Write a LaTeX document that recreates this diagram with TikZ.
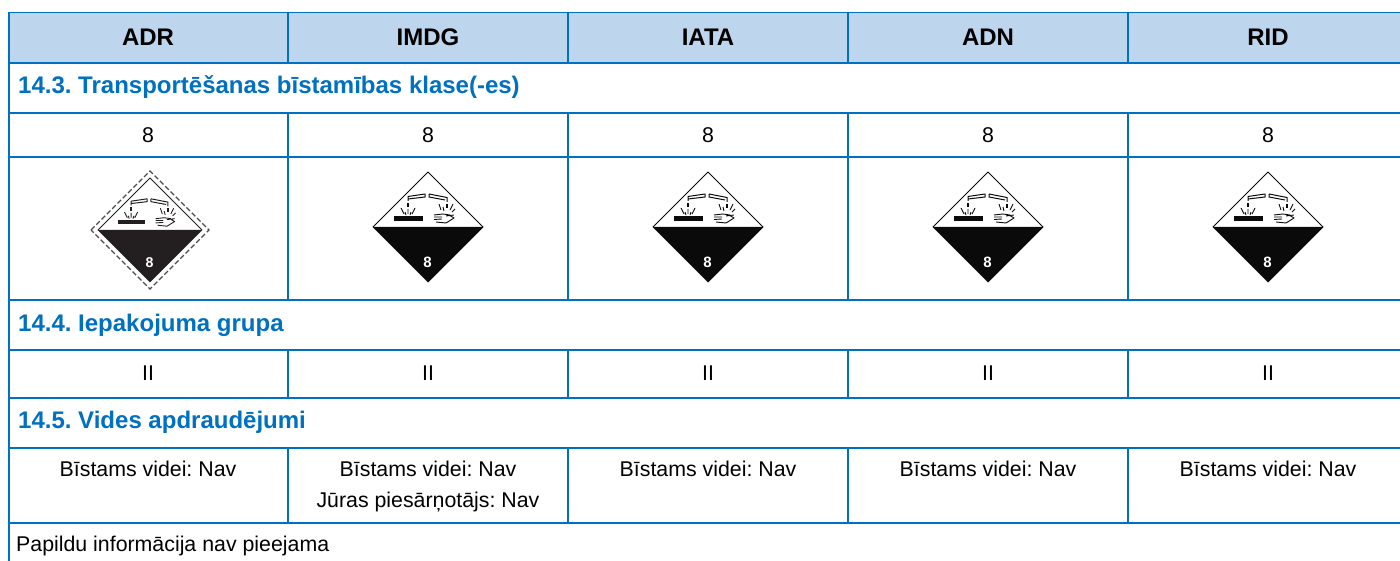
\documentclass[tikz,border=0pt]{standalone}
\usepackage{fontspec}
\setmainfont{Liberation Sans}
\frenchspacing
\definecolor{rulecol}{HTML}{0070C0}
\definecolor{headfill}{HTML}{BDD6EE}
\definecolor{inkcol}{HTML}{0A0A0A}
\tikzset{
  rulethin/.style={draw=rulecol,line width=1.3pt},
  rulethick/.style={draw=rulecol,line width=2pt},
  headcell/.style={font=\fontsize{24}{28}\selectfont\bfseries,text=black,anchor=center,inner sep=0pt},
  seccell/.style={font=\fontsize{24}{28}\selectfont\bfseries,text=rulecol,anchor=west,inner sep=0pt},
  bodycell/.style={font=\fontsize{21.33}{31}\selectfont,text=black,anchor=center,align=center,inner sep=0pt},
  notecell/.style={font=\fontsize{21.33}{26}\selectfont,text=black,anchor=west,inner sep=0pt},
  pictoline/.style={draw=inkcol,line width=1pt,line join=round},
  pics/corrosive/.style={code={
    \fill[white] (-55,0) -- (0,-55) -- (55,0) -- (0,55) -- cycle;
    \draw[pictoline] (-55,0) -- (0,-55) -- (55,0);
    \fill[inkcol] (-55.5,0) -- (55.5,0) -- (0,55.5) -- cycle;
    \draw[pictoline] (-20,-26) -- (-20,-30.5) -- (-3,-33) -- (-3,-30) -- (-20,-28);
    \draw[pictoline] (1,-33) -- (19,-29.5) -- (19,-25);
    \draw[pictoline] (1,-33) -- (1,-30) -- (17,-27);
    \fill[inkcol] (-34,-11) rectangle (-5,-6);
    \draw[inkcol,line width=1.6pt] (-20,-24) -- (-20,-20);
    \draw[inkcol,line width=0.9pt] (-20,-13) -- (-20,-18) (-24,-13) -- (-27,-19) (-16,-13) -- (-13,-19) (-22,-12) -- (-23,-15) (-18,-12) -- (-17,-15);
    \draw[inkcol,line width=1.6pt] (19,-23) -- (19,-19);
    \draw[inkcol,line width=0.9pt] (13,-17) -- (11,-23) (16,-16) -- (15,-20) (22,-17) -- (25,-23) (24,-15) -- (27,-18);
    \draw[pictoline,line width=0.9pt] (6,-12) -- (15,-13) -- (22,-12) (6,-10) -- (14,-10) (6,-7.5) -- (14,-8) (8,-5) -- (18,-4) -- (26,-9) -- (21,-12) (18,-11) -- (26,-12);
    \node[text=white,font=\fontsize{15}{15}\selectfont\bfseries,inner sep=0pt] at (-0.5,35) {8};
  }},
  pics/corrosiveadr/.style={code={
    \definecolor{inkcol}{HTML}{231F20}
    \draw[inkcol!80,line width=1.3pt,dash pattern=on 5pt off 2.5pt] (-59,0) -- (0,-59) -- (59,0) -- (0,59) -- cycle;
    \pic[scale=0.945,transform shape] {corrosive};
  }}
}
\begin{document}
\begin{tikzpicture}[x=1pt,y=-1pt]
\useasboundingbox (0,0) rectangle (1400,561);
\fill[white] (0,0) rectangle (1400,561);
\fill[headfill] (9,13) rectangle (1400,62);
% rules
\draw[rulethin] (8.5,12.7) -- (1400,12.7);
\foreach \yy in {62.7,112.7,157.5,300,349.5,397.5,447.5,522.5}
  \draw[rulethick] (8,\yy) -- (1400,\yy);
\draw[rulethick] (8.7,12) -- (8.7,561);
\foreach \xx in {288,568,848,1128} {
  \draw[rulethick] (\xx,13) -- (\xx,62);
  \draw[rulethick] (\xx,113) -- (\xx,300);
  \draw[rulethick] (\xx,350) -- (\xx,397);
  \draw[rulethick] (\xx,448) -- (\xx,522);
}
% header
\node[headcell] (hadr) at (148,37) {ADR};
\node[headcell] (himdg) at (428,37) {IMDG};
\node[headcell] (hiata) at (708,37) {IATA};
\node[headcell] (hadn) at (988,37) {ADN};
\node[headcell] (hrid) at (1268,37) {RID};
% sections
\node[seccell] (s143) at (18,87) {14.3. Transportēšanas bīstamības klase(-es)};
\node[seccell] (s144) at (18,325) {14.4. Iepakojuma grupa};
\node[seccell] (s145) at (18,422.5) {14.5. Vides apdraudējumi};
% class
\node[bodycell] (c1) at (148,135) {8};
\node[bodycell] (c2) at (428,135) {8};
\node[bodycell] (c3) at (708,135) {8};
\node[bodycell] (c4) at (988,135) {8};
\node[bodycell] (c5) at (1268,135) {8};
% pictograms
\pic at (150,230) {corrosiveadr};
\pic at (428,227) {corrosive};
\pic at (708,227) {corrosive};
\pic at (988,227) {corrosive};
\pic at (1268,227) {corrosive};
% packing group
\node[bodycell] (g1) at (148,373) {II};
\node[bodycell] (g2) at (428,373) {II};
\node[bodycell] (g3) at (708,373) {II};
\node[bodycell] (g4) at (988,373) {II};
\node[bodycell] (g5) at (1268,373) {II};
% environment
\node[bodycell] (e1) at (148,469) {Bīstams videi: Nav};
\node[bodycell,anchor=north] (e2) at (428,460.5) {Bīstams videi: Nav\\Jūras piesārņotājs: Nav};
\node[bodycell] (e3) at (708,469) {Bīstams videi: Nav};
\node[bodycell] (e4) at (988,469) {Bīstams videi: Nav};
\node[bodycell] (e5) at (1268,469) {Bīstams videi: Nav};
\node[notecell] (note) at (16,546) {Papildu informācija nav pieejama};
\end{tikzpicture}
\end{document}
